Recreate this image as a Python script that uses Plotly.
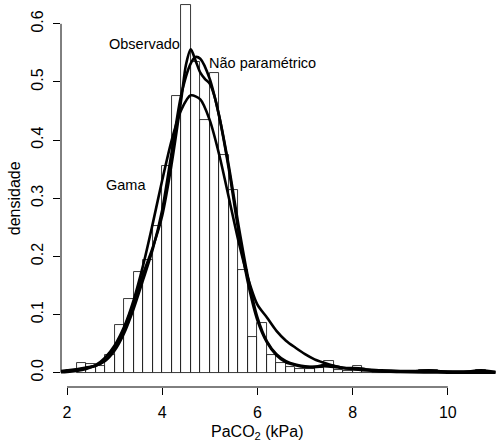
import plotly.graph_objects as go

# Histogram (density, bin width 0.2)
bin_starts = [2.2, 2.4, 2.6, 2.8, 3.0, 3.2, 3.4, 3.6, 3.8, 4.0, 4.2, 4.4, 4.6, 4.8,
              5.0, 5.2, 5.4, 5.6, 5.8, 6.0, 6.2, 6.4, 6.6, 6.8, 7.0, 7.2, 7.4, 7.6,
              7.8, 8.0, 8.2, 8.4, 8.6, 8.8, 9.0, 9.2, 9.4, 9.6, 9.8, 10.0, 10.2,
              10.4, 10.6]
densities = [0.016, 0.015, 0.011, 0.030, 0.082, 0.126, 0.173, 0.193, 0.253, 0.355,
             0.476, 0.633, 0.535, 0.434, 0.516, 0.374, 0.314, 0.177, 0.061, 0.086,
             0.031, 0.016, 0.010, 0.006, 0.006, 0.008, 0.020, 0.005, 0.003, 0.011,
             0.003, 0.0, 0.0, 0.0, 0.0, 0.0, 0.005, 0.005, 0.0, 0.0, 0.0, 0.0, 0.005]
bin_width = 0.2

# Curve: Observado
obs_x = [1.8, 2.0, 2.2, 2.4, 2.6, 2.8, 3.0, 3.2, 3.4, 3.6, 3.8, 4.0, 4.2, 4.4, 4.5,
         4.6, 4.7, 4.8, 4.9, 5.0, 5.1, 5.2, 5.4, 5.6, 5.8, 6.0, 6.2, 6.4, 6.6, 6.8,
         7.0, 7.2, 7.4, 7.6, 7.8, 8.0, 8.2, 8.4, 8.8, 9.2, 9.6, 9.9, 10.3, 10.7, 11.0]
obs_y = [0.002, 0.004, 0.006, 0.009, 0.012, 0.021, 0.042, 0.076, 0.120, 0.170, 0.215,
         0.270, 0.360, 0.470, 0.530, 0.556, 0.537, 0.516, 0.505, 0.497, 0.475, 0.440,
         0.350, 0.245, 0.155, 0.090, 0.052, 0.030, 0.018, 0.013, 0.010, 0.010, 0.013,
         0.012, 0.008, 0.008, 0.007, 0.004, 0.002, 0.002, 0.004, 0.002, 0.001, 0.004,
         0.001]

# Curve: Nao parametrico
np_x = [1.8, 2.0, 2.2, 2.4, 2.6, 2.8, 3.0, 3.2, 3.4, 3.6, 3.8, 4.0, 4.2, 4.4, 4.6,
        4.7, 4.8, 5.0, 5.2, 5.4, 5.6, 5.8, 6.0, 6.2, 6.4, 6.6, 6.8, 7.0, 7.2, 7.4,
        7.6, 7.8, 8.0, 8.2, 8.6, 9.0, 9.5, 10.0, 10.5, 11.0]
np_y = [0.002, 0.003, 0.005, 0.008, 0.012, 0.020, 0.038, 0.068, 0.110, 0.160, 0.212,
        0.280, 0.380, 0.478, 0.532, 0.543, 0.540, 0.505, 0.440, 0.355, 0.255, 0.165,
        0.095, 0.054, 0.032, 0.020, 0.014, 0.011, 0.010, 0.011, 0.010, 0.008, 0.007,
        0.006, 0.004, 0.003, 0.003, 0.002, 0.002, 0.001]

# Curve: Gama
gam_x = [1.8, 2.0, 2.2, 2.4, 2.6, 2.8, 3.0, 3.2, 3.4, 3.6, 3.8, 4.0, 4.2, 4.4, 4.6,
         4.8, 5.0, 5.2, 5.4, 5.6, 5.8, 6.0, 6.2, 6.4, 6.6, 6.8, 7.0, 7.2, 7.4, 7.6,
         7.8, 8.0, 8.2, 8.4, 8.6, 8.8, 9.0, 9.5, 10.0, 11.0]
gam_y = [0.0005, 0.0012, 0.003, 0.0065, 0.013, 0.026, 0.047, 0.079, 0.125, 0.185,
         0.256, 0.331, 0.400, 0.452, 0.477, 0.470, 0.434, 0.374, 0.301, 0.227, 0.163,
         0.117, 0.095, 0.072, 0.055, 0.043, 0.032, 0.023, 0.017, 0.012, 0.0085, 0.006,
         0.0045, 0.0033, 0.0024, 0.0017, 0.0012, 0.0005, 0.0002, 0.0]

x_ticks = [2, 4, 6, 8, 10]
y_ticks = [0.0, 0.1, 0.2, 0.3, 0.4, 0.5, 0.6]
y_tick_text = ["0.0", "0.1", "0.2", "0.3", "0.4", "0.5", "0.6"]

labels = [("Observado", 3.62, 0.565), ("Não paramétrico", 6.11, 0.533), ("Gama", 3.23, 0.323)]
x_title = "PaCO<sub>2</sub> (kPa)"
y_title = "densidade"

FONT = "Liberation Sans, Arial, Helvetica, sans-serif"

fig = go.Figure()
fig.add_trace(go.Bar(
    x=[s + bin_width / 2 for s in bin_starts], y=densities, width=bin_width,
    marker=dict(color="rgba(255,255,255,0)", line=dict(color="#222222", width=0.9)),
    hoverinfo="skip", showlegend=False))
for cx, cy in [(obs_x, obs_y), (np_x, np_y), (gam_x, gam_y)]:
    fig.add_trace(go.Scatter(x=cx, y=cy, mode="lines",
                             line=dict(color="black", width=2.6, shape="spline", smoothing=0.8),
                             hoverinfo="skip", showlegend=False))

for txt, lx, ly in labels:
    fig.add_annotation(x=lx, y=ly, text=txt, showarrow=False, xref="x", yref="y",
                       font=dict(family=FONT, size=14.5, color="black"))

# Axis titles placed as annotations (R-like positions)
fig.add_annotation(x=6.0, xref="x", y=0, yref="paper", yanchor="middle", yshift=-45,
                   text=x_title, showarrow=False,
                   font=dict(family=FONT, size=16, color="black"))
fig.add_annotation(x=0, xref="paper", xshift=-47, y=0.3, yref="y", text=y_title,
                   textangle=-90, showarrow=False, xanchor="center",
                   font=dict(family=FONT, size=16, color="black"))

# R-style axis lines spanning only the tick range
fig.add_shape(type="line", xref="x", yref="paper", x0=2, x1=10, y0=0, y1=0,
              line=dict(color="black", width=1))
fig.add_shape(type="line", xref="paper", yref="y", x0=0, x1=0, y0=0, y1=0.6,
              line=dict(color="black", width=1))

fig.update_layout(
    width=496, height=443,
    margin=dict(l=61, r=0, t=0, b=56, autoexpand=False),
    paper_bgcolor="white", plot_bgcolor="white",
    font=dict(family=FONT, size=16, color="black"),
    bargap=0,
    xaxis=dict(range=[1.874, 11.012], tickvals=x_ticks, ticks="outside", ticklen=7,
               tickcolor="black", showgrid=False, zeroline=False, showline=False,
               tickfont=dict(size=16), automargin=False, ticklabelstandoff=4),
    yaxis=dict(range=[-0.0246, 0.641], tickvals=y_ticks, ticktext=y_tick_text,
               ticks="outside", ticklen=7, tickcolor="black", tickangle=-90,
               showgrid=False, zeroline=False, showline=False, tickfont=dict(size=16),
               automargin=False, ticklabelstandoff=4),
)

fig.write_html("out.html", config={"displayModeBar": False},
               post_script="document.body.style.margin='0px';document.body.style.overflow='hidden';")
